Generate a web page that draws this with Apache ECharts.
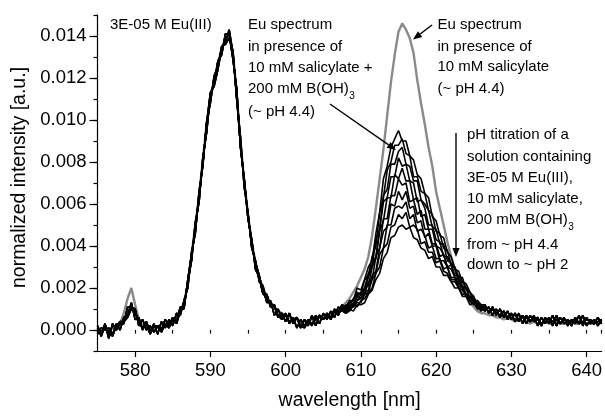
<!DOCTYPE html>
<html><head><meta charset="utf-8">
<script src="https://cdn.jsdelivr.net/npm/echarts@6/dist/echarts.min.js"></script>
<style>html,body{margin:0;padding:0;background:#fff}#c{width:605px;height:416px}</style>
</head><body><div id="c"></div>
<script>
// ---- sampling grid (nm) ----
const wavelength = [
575,575.5,576,576.5,577,577.5,578,578.5,579,579.5,
580,580.5,581,581.5,582,582.5,583,583.5,584,584.5,
585,585.5,586,586.5,587,587.5,588,588.5,589,589.5,
590,590.5,591,591.5,592,592.5,593,593.5,594,594.5,
595,595.5,596,596.5,597,597.5,598,598.5,599,599.5,
600,600.5,601,601.5,602,602.5,603,603.5,604,604.5,
605,605.5,606,606.5,607,607.5,
608,608.5,609,609.5,610,610.5,611,611.5,612,612.5,
613,613.5,614,614.5,615,615.5,616,616.5,617,617.5,
618,618.5,619,619.5,620,620.5,621,621.5,622,622.5,
623,623.5,624,624.5,625,625.5,626,
626.5,627,627.5,628,628.5,629,629.5,630,630.5,631,
631.5,632,632.5,633,633.5,634,634.5,635,635.5,636,
636.5,637,637.5,638,638.5,639,639.5,640,640.5,641,641.5,642];

// ---- 575–607.5 nm (shared region, three overlapping black traces + grey) ----
const blackLowA1 = [0.0002,-0.0002,0.0003,-0.0004,0.0003,0.0000,0.0003,0.0003,0.0011,0.0011,0.0010,0.0002,0.0005,0.0000,0.0002,-0.0001,0.0002,0.0000,0.0005,0.0002,0.0006,0.0003,0.0009,0.0011,0.0023,0.0033,0.0051,0.0061,0.0082,0.0094,0.0112,0.0117,0.0128,0.0131,0.0141,0.0141,0.0129,0.0115,0.0087,0.0072,0.0053,0.0043,0.0029,0.0025,0.0017,0.0017,0.0011,0.0012,0.0006,0.0008,0.0004,0.0008,0.0003,0.0006,0.0001,0.0005,0.0002,0.0007,0.0002,0.0007,0.0005,0.0008,0.0005,0.0009,0.0008,0.0012];
const blackLowA2 = [-0.0002,0.0001,0.0000,0.0001,-0.0002,0.0003,0.0000,0.0006,0.0007,0.0013,0.0005,0.0006,0.0000,0.0004,-0.0001,0.0003,-0.0002,0.0004,0.0001,0.0005,0.0002,0.0008,0.0007,0.0014,0.0020,0.0037,0.0046,0.0066,0.0078,0.0099,0.0108,0.0121,0.0125,0.0135,0.0136,0.0139,0.0133,0.0110,0.0092,0.0068,0.0056,0.0039,0.0033,0.0023,0.0021,0.0013,0.0014,0.0007,0.0010,0.0006,0.0008,0.0003,0.0006,0.0001,0.0005,0.0002,0.0005,0.0002,0.0007,0.0003,0.0008,0.0005,0.0009,0.0006,0.0011,0.0009];
const blackLowA3 = [0.0001,-0.0003,0.0002,-0.0001,-0.0003,0.0002,0.0004,0.0004,0.0006,0.0010,0.0009,0.0003,0.0001,0.0003,-0.0002,0.0002,0.0002,-0.0001,0.0003,0.0001,0.0005,0.0004,0.0011,0.0010,0.0024,0.0036,0.0047,0.0064,0.0079,0.0098,0.0113,0.0116,0.0124,0.0134,0.0137,0.0143,0.0132,0.0111,0.0088,0.0071,0.0055,0.0040,0.0032,0.0026,0.0018,0.0014,0.0013,0.0011,0.0007,0.0005,0.0007,0.0004,0.0005,0.0006,0.0002,0.0001,0.0004,0.0003,0.0005,0.0007,0.0005,0.0007,0.0006,0.0010,0.0007,0.0011];
const greyLowA = [0.0001,-0.0001,0.0002,-0.0001,0.0001,0.0002,0.0003,0.0008,0.0015,0.0020,0.0012,0.0005,0.0002,0.0001,0.0000,0.0002,0.0001,0.0003,0.0002,0.0004,0.0004,0.0006,0.0009,0.0013,0.0022,0.0036,0.0050,0.0064,0.0081,0.0098,0.0111,0.0119,0.0127,0.0134,0.0139,0.0140,0.0132,0.0112,0.0090,0.0071,0.0055,0.0042,0.0032,0.0025,0.0020,0.0016,0.0013,0.0011,0.0009,0.0008,0.0007,0.0006,0.0005,0.0005,0.0004,0.0004,0.0004,0.0005,0.0005,0.0006,0.0007,0.0007,0.0008,0.0009,0.0010,0.0011];

// ---- 608–626 nm (5D0->7F2 band): grey reference + pH titration (pH 4.4 -> 2) ----
const greyPeak = [0.0013,0.0015,0.0018,0.0021,0.0025,0.0029,0.0035,0.0045,0.0058,0.0072,0.0086,0.0102,0.0118,0.0131,0.0142,0.0146,0.0143,0.0139,0.0132,0.0119,0.0108,0.0098,0.0087,0.0078,0.0066,0.0058,0.0050,0.0042,0.0035,0.0029,0.0024,0.0019,0.0016,0.0013,0.0011,0.0009,0.0008];
const titr0 = [0.0011,0.0014,0.0014,0.0020,0.0019,0.0024,0.0030,0.0033,0.0046,0.0056,0.0072,0.0078,0.0087,0.0091,0.0095,0.0090,0.0090,0.0083,0.0081,0.0074,0.0072,0.0065,0.0063,0.0054,0.0052,0.0045,0.0044,0.0037,0.0035,0.0029,0.0028,0.0023,0.0022,0.0018,0.0016,0.0012,0.0012];
const titr1 = [0.0012,0.0011,0.0015,0.0017,0.0017,0.0024,0.0026,0.0035,0.0040,0.0056,0.0063,0.0076,0.0080,0.0088,0.0088,0.0091,0.0084,0.0083,0.0073,0.0073,0.0066,0.0065,0.0057,0.0055,0.0047,0.0046,0.0039,0.0038,0.0031,0.0030,0.0025,0.0025,0.0019,0.0018,0.0014,0.0014,0.0012];
const titr2 = [0.0009,0.0013,0.0014,0.0018,0.0017,0.0020,0.0027,0.0030,0.0043,0.0048,0.0064,0.0067,0.0079,0.0079,0.0085,0.0087,0.0079,0.0078,0.0071,0.0071,0.0062,0.0060,0.0057,0.0049,0.0048,0.0041,0.0041,0.0033,0.0032,0.0029,0.0023,0.0023,0.0020,0.0018,0.0014,0.0011,0.0012];
const titr3 = [0.0010,0.0012,0.0012,0.0016,0.0018,0.0019,0.0025,0.0031,0.0035,0.0048,0.0061,0.0063,0.0073,0.0073,0.0082,0.0078,0.0079,0.0071,0.0070,0.0061,0.0062,0.0058,0.0050,0.0050,0.0043,0.0042,0.0035,0.0035,0.0031,0.0026,0.0026,0.0021,0.0020,0.0015,0.0015,0.0012,0.0010];
const titr4 = [0.0011,0.0011,0.0012,0.0016,0.0015,0.0020,0.0021,0.0030,0.0034,0.0047,0.0052,0.0063,0.0063,0.0074,0.0072,0.0077,0.0071,0.0071,0.0062,0.0063,0.0054,0.0055,0.0048,0.0048,0.0040,0.0039,0.0036,0.0030,0.0031,0.0025,0.0024,0.0020,0.0020,0.0015,0.0014,0.0013,0.0011];
const titr5 = [0.0009,0.0010,0.0013,0.0014,0.0017,0.0017,0.0023,0.0024,0.0035,0.0039,0.0053,0.0053,0.0064,0.0064,0.0072,0.0069,0.0070,0.0061,0.0062,0.0055,0.0057,0.0048,0.0048,0.0041,0.0041,0.0035,0.0036,0.0030,0.0029,0.0025,0.0022,0.0021,0.0017,0.0016,0.0013,0.0011,0.0011];
const titr6 = [0.0010,0.0010,0.0011,0.0014,0.0015,0.0018,0.0019,0.0026,0.0028,0.0039,0.0047,0.0049,0.0060,0.0059,0.0066,0.0062,0.0066,0.0058,0.0059,0.0051,0.0052,0.0044,0.0046,0.0040,0.0040,0.0033,0.0033,0.0030,0.0025,0.0025,0.0021,0.0020,0.0016,0.0016,0.0013,0.0012,0.0009];
const titr7 = [0.0008,0.0011,0.0011,0.0013,0.0013,0.0017,0.0018,0.0024,0.0027,0.0036,0.0039,0.0050,0.0050,0.0058,0.0059,0.0058,0.0061,0.0053,0.0055,0.0047,0.0048,0.0045,0.0039,0.0040,0.0034,0.0034,0.0029,0.0030,0.0024,0.0024,0.0020,0.0019,0.0017,0.0014,0.0012,0.0012,0.0010];
const titr8 = [0.0008,0.0009,0.0012,0.0011,0.0014,0.0015,0.0018,0.0020,0.0027,0.0030,0.0039,0.0041,0.0049,0.0050,0.0055,0.0053,0.0056,0.0049,0.0050,0.0048,0.0041,0.0042,0.0037,0.0037,0.0032,0.0033,0.0028,0.0027,0.0023,0.0023,0.0020,0.0017,0.0017,0.0014,0.0013,0.0010,0.0010];
const titr9 = [0.0008,0.0010,0.0009,0.0012,0.0012,0.0013,0.0017,0.0019,0.0024,0.0027,0.0034,0.0037,0.0044,0.0045,0.0049,0.0050,0.0048,0.0049,0.0044,0.0043,0.0039,0.0038,0.0034,0.0035,0.0030,0.0030,0.0026,0.0026,0.0023,0.0020,0.0020,0.0016,0.0016,0.0012,0.0013,0.0011,0.0009];

// ---- 626.5–642 nm tail ----
const blackTailC1 = [0.0012,0.0008,0.0011,0.0007,0.0010,0.0006,0.0009,0.0005,0.0008,0.0004,0.0007,0.0003,0.0007,0.0004,0.0006,0.0002,0.0006,0.0003,0.0007,0.0002,0.0006,0.0003,0.0005,0.0002,0.0006,0.0003,0.0007,0.0002,0.0005,0.0003,0.0006,0.0003];
const blackTailC2 = [0.0009,0.0011,0.0007,0.0010,0.0006,0.0009,0.0005,0.0008,0.0004,0.0008,0.0003,0.0007,0.0004,0.0007,0.0002,0.0006,0.0003,0.0006,0.0002,0.0007,0.0003,0.0006,0.0002,0.0005,0.0003,0.0007,0.0002,0.0006,0.0003,0.0005,0.0002,0.0005];
const blackTailC3 = [0.0010,0.0009,0.0010,0.0008,0.0007,0.0009,0.0006,0.0007,0.0007,0.0005,0.0006,0.0006,0.0004,0.0006,0.0005,0.0003,0.0005,0.0005,0.0004,0.0005,0.0003,0.0005,0.0004,0.0004,0.0005,0.0003,0.0004,0.0005,0.0004,0.0003,0.0004,0.0005];
const greyTailC = [0.0008,0.0007,0.0007,0.0006,0.0006,0.0005,0.0006,0.0005,0.0004,0.0005,0.0004,0.0004,0.0003,0.0004,0.0003,0.0003,0.0004,0.0003,0.0003,0.0004,0.0003,0.0003,0.0003,0.0004,0.0003,0.0003,0.0004,0.0003,0.0003,0.0003,0.0004,0.0003];

// ---- ticks ----
const xTickLabels = [580, 590, 600, 610, 620, 630, 640];
const yTickLabels = [0, 0.002, 0.004, 0.006, 0.008, 0.010, 0.012, 0.014];

const titration = [titr0, titr1, titr2, titr3, titr4, titr5, titr6, titr7, titr8, titr9];
const lowVariants = [blackLowA1, blackLowA2, blackLowA3];
const tailVariants = [blackTailC1, blackTailC2, blackTailC3];

function pair(vals) { return wavelength.map((w, i) => [w, vals[i]]); }

const FONT = '"Liberation Sans", Arial, Helvetica, sans-serif';

const series = [];
series.push({
  name: 'Eu + 10 mM salicylate', type: 'line', showSymbol: false, animation: false,
  data: pair(greyLowA.concat(greyPeak, greyTailC)),
  lineStyle: { color: '#8a8a8a', width: 2.4 }, itemStyle: { color: '#8a8a8a' }, z: 2
});
titration.forEach((t, k) => {
  series.push({
    name: 'titration ' + k, type: 'line', showSymbol: false, animation: false,
    data: pair(lowVariants[k % 3].concat(t, tailVariants[k % 3])),
    lineStyle: { color: '#000', width: 1.6 }, itemStyle: { color: '#000' }, z: 3
  });
});

function arrow(x1, y1, x2, y2) {
  const L = 9, W = 3.6;
  const dx = x2 - x1, dy = y2 - y1, len = Math.hypot(dx, dy);
  const ux = dx / len, uy = dy / len;
  const bx = x2 - ux * L, by = y2 - uy * L;
  return [
    { type: 'line', shape: { x1: x1, y1: y1, x2: bx, y2: by }, style: { stroke: '#000', lineWidth: 1.4 }, z: 10 },
    { type: 'polygon', shape: { points: [[x2, y2], [bx - uy * W, by + ux * W], [bx + uy * W, by - ux * W]] }, style: { fill: '#000' }, z: 10 }
  ];
}

const ctx = document.createElement('canvas').getContext('2d');
ctx.font = '15px ' + FONT;
function tw(s) { return ctx.measureText(s).width; }

function txt(s, x, y, size) {
  return { type: 'text', x: x, y: y, z: 10,
    style: { text: s, x: 0, y: 0, fill: '#000', font: (size || 15) + 'px ' + FONT, textAlign: 'left', verticalAlign: 'middle' } };
}

const g = [];
g.push(txt('3E-05 M Eu(III)', 110, 25));
// block 1
const b1x = 248;
g.push(txt('Eu spectrum', b1x, 25));
g.push(txt('in presence of', b1x, 46.7));
g.push(txt('10 mM salicylate +', b1x, 67.5));
g.push(txt('200 mM B(OH)', b1x, 88.5));
g.push(txt('3', b1x + tw('200 mM B(OH)') + 0.5, 96.5, 10));
g.push(txt('(~ pH 4.4)', b1x, 112));
// block 2
const b2x = 437.5;
g.push(txt('Eu spectrum', b2x, 25));
g.push(txt('in presence of', b2x, 46.5));
g.push(txt('10 mM salicylate', b2x, 67));
g.push(txt('(~ pH 4.4)', b2x, 88.5));
// block 3
const b3x = 467;
g.push(txt('pH titration of a', b3x, 135));
g.push(txt('solution containing', b3x, 156.5));
g.push(txt('3E-05 M Eu(III),', b3x, 178));
g.push(txt('10 mM salicylate,', b3x, 199));
g.push(txt('200 mM B(OH)', b3x, 219.5));
g.push(txt('3', b3x + tw('200 mM B(OH)') + 0.5, 227.5, 10));
g.push(txt('from ~ pH 4.4', b3x, 245));
g.push(txt('down to ~ pH 2', b3x, 265));
// arrows
arrow(330, 104, 396, 150).forEach(e => g.push(e));
arrow(432, 25, 413, 39.5).forEach(e => g.push(e));
arrow(456, 133, 456, 257).forEach(e => g.push(e));
// y axis title
g.push({ type: 'text', x: 20, y: 177.5, rotation: Math.PI / 2, z: 10,
  style: { text: 'normalized intensity [a.u.]', x: 0, y: 0, fill: '#000', font: '19.5px ' + FONT, textAlign: 'center', verticalAlign: 'middle' } });

const axisLabelStyle = { color: '#000', fontSize: 18.5, fontFamily: FONT };

const option = {
  backgroundColor: '#fff',
  animation: false,
  grid: { left: 97.5, top: 15, width: 507, bottom: 57, containLabel: false },
  xAxis: [{
    type: 'value', min: 575, max: 642, position: 'bottom',
    axisLine: { show: true, onZero: false, lineStyle: { color: '#000', width: 1.2 } },
    axisTick: { show: true, customValues: xTickLabels, length: 6, lineStyle: { color: '#000', width: 1.2 } },
    axisLabel: Object.assign({ customValues: xTickLabels, margin: 10 }, axisLabelStyle),
    splitLine: { show: false },
    name: 'wavelength [nm]', nameLocation: 'middle', nameGap: 40,
    nameTextStyle: { color: '#000', fontSize: 19.5, fontFamily: FONT }
  }, {
    type: 'value', min: 575, max: 642, interval: 5, position: 'bottom',
    axisLine: { show: false }, axisTick: { show: true, length: 3.5, lineStyle: { color: '#000', width: 1.2 } },
    axisLabel: { show: false }, splitLine: { show: false }
  }],
  yAxis: [{
    type: 'value', min: -0.001, max: 0.015, position: 'left',
    axisLine: { show: true, onZero: false, lineStyle: { color: '#000', width: 1.2 } },
    axisTick: { show: true, customValues: yTickLabels, length: 8, lineStyle: { color: '#000', width: 1.2 } },
    axisLabel: Object.assign({ customValues: yTickLabels, margin: 11, formatter: v => v.toFixed(3) }, axisLabelStyle),
    splitLine: { show: false }
  }, {
    type: 'value', min: -0.001, max: 0.015, interval: 0.001, position: 'left',
    axisLine: { show: false }, axisTick: { show: true, length: 4, lineStyle: { color: '#000', width: 1.2 } },
    axisLabel: { show: false }, splitLine: { show: false }
  }],
  series: series,
  graphic: g
};

const chart = echarts.init(document.getElementById('c'), null, { renderer: 'canvas' });
chart.setOption(option);
</script>
</body></html>
